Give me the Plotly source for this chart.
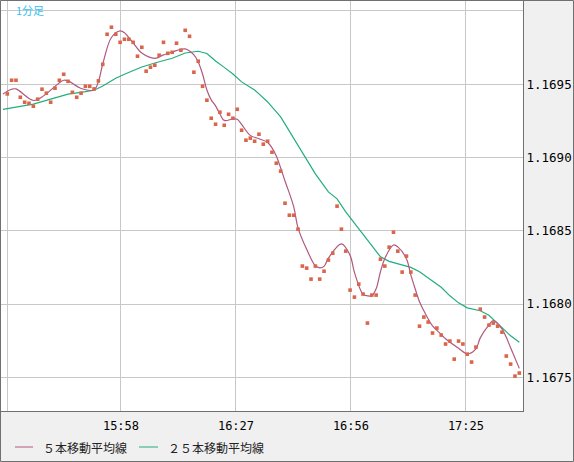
import plotly.graph_objects as go

# ---- data ----
bar_index = list(range(119))
close = [
    1.169434, 1.169527, 1.169527, 1.169411, 1.169377, 1.169370, 1.169350, 1.169398, 1.169466, 1.169439,
    1.169377, 1.169473, 1.169527, 1.169568, 1.169520, 1.169445, 1.169411, 1.169439, 1.169486, 1.169486,
    1.169468, 1.169523, 1.169636, 1.169841, 1.169889, 1.169841, 1.169786, 1.169807, 1.169807, 1.169786,
    1.169691, 1.169752, 1.169589, 1.169616, 1.169630, 1.169698, 1.169786, 1.169711, 1.169718, 1.169780,
    1.169732, 1.169868, 1.169827, 1.169582, 1.169657, 1.169486, 1.169391, 1.169268, 1.169227, 1.169309,
    1.169220, 1.169295, 1.169268, 1.169329, 1.169186, 1.169118, 1.169132, 1.169111, 1.169159, 1.169091,
    1.169111, 1.169036, 1.168961, 1.168907, 1.168688, 1.168606, 1.168606, 1.168511, 1.168259, 1.168245,
    1.168170, 1.168259, 1.168170, 1.168224, 1.168300, 1.168347, 1.168668, 1.168511, 1.168361, 1.168095,
    1.168047, 1.168136, 1.168068, 1.167870, 1.168061, 1.168061, 1.168306, 1.168259, 1.168388, 1.168490,
    1.168361, 1.168218, 1.168327, 1.168218, 1.168061, 1.167849, 1.167911, 1.167877, 1.167802, 1.167836,
    1.167788, 1.167727, 1.167747, 1.167624, 1.167747, 1.167727, 1.167658, 1.167604, 1.167706, 1.167965,
    1.167911, 1.167856, 1.167870, 1.167849, 1.167808, 1.167645, 1.167590, 1.167508, 1.167529,
]

ma5_index = [-1, 1, 2, 6, 8, 13, 14, 17, 20, 21, 22, 24, 26, 27, 29, 31, 34, 36, 38, 41,
             43, 44, 45, 46, 47, 48, 49, 50, 52, 53, 54, 56, 58, 60, 61, 62, 64, 66, 67, 69,
             71, 72, 73, 74, 77, 79, 80, 82, 83, 84, 85, 86, 87, 89, 90, 92, 93, 94, 95, 96,
             98, 100, 101, 104, 106, 108, 109, 111, 112, 114, 115, 116, 118]
ma5 = [1.169434, 1.169466, 1.169468, 1.169389, 1.169413, 1.169527, 1.169523, 1.169471, 1.169462, 1.169518,
       1.169638, 1.169819, 1.169864, 1.169852, 1.169782, 1.169713, 1.169677, 1.169700, 1.169720, 1.169741,
       1.169700, 1.169652, 1.169570, 1.169461, 1.169393, 1.169352, 1.169297, 1.169253, 1.169263, 1.169261,
       1.169226, 1.169151, 1.169128, 1.169103, 1.169066, 1.169011, 1.168840, 1.168665, 1.168520, 1.168373,
       1.168261, 1.168247, 1.168257, 1.168313, 1.168411, 1.168332, 1.168216, 1.168066, 1.168056, 1.168056,
       1.168104, 1.168220, 1.168311, 1.168403, 1.168390, 1.168308, 1.168199, 1.168104, 1.168015, 1.167954,
       1.167851, 1.167793, 1.167763, 1.167698, 1.167660, 1.167694, 1.167769, 1.167858, 1.167887, 1.167831,
       1.167773, 1.167701, 1.167561]

ma25_index = [-1, 2, 6, 10, 14, 17, 20, 22, 25, 27, 29, 31, 34, 38, 41, 44, 46, 48, 50, 52,
              54, 57, 58, 60, 63, 67, 69, 71, 74, 76, 78, 81, 83, 86, 88, 91, 93, 95, 97, 100,
              102, 104, 106, 109, 111, 113, 116, 118]
ma25 = [1.169328, 1.169343, 1.169364, 1.169398, 1.169432, 1.169445, 1.169459, 1.169488, 1.169541, 1.169568,
        1.169595, 1.169618, 1.169645, 1.169677, 1.169713, 1.169725, 1.169710, 1.169659, 1.169615, 1.169570,
        1.169516, 1.169461, 1.169434, 1.169379, 1.169277, 1.169086, 1.168990, 1.168888, 1.168765, 1.168718,
        1.168629, 1.168513, 1.168431, 1.168322, 1.168291, 1.168264, 1.168250, 1.168220, 1.168179, 1.168114,
        1.168056, 1.168008, 1.167974, 1.167954, 1.167923, 1.167865, 1.167783, 1.167739]

x_tick_pos = [0, 26.2, 52.7, 79.2, 105.7]
x_tick_labels = ['', '15:58', '16:27', '16:56', '17:25']
y_tick_vals = [1.1675, 1.1680, 1.1685, 1.1690, 1.1695, 1.1700]
y_tick_labels = ['1.1675', '1.1680', '1.1685', '1.1690', '1.1695', '']
legend_names = ['５本移動平均線', '２５本移動平均線']
title_label = '1分足'

C_MA5 = '#b0587f'
C_MA25 = '#22ae7c'
C_PT = '#d9654b'

fig = go.Figure()
fig.add_trace(go.Scatter(x=ma25_index, y=ma25, mode='lines',
                         line=dict(color=C_MA25, width=1.2), hoverinfo='skip'))
fig.add_trace(go.Scatter(x=ma5_index, y=ma5, mode='lines',
                         line=dict(color=C_MA5, width=1.2, shape='spline', smoothing=1.0),
                         hoverinfo='skip'))
fig.add_trace(go.Scatter(x=bar_index, y=close, mode='markers',
                         marker=dict(symbol='square', size=3.6, color=C_PT, line=dict(width=0))))

W, H = 574, 462
L, R, T, B = 1, 51, 1, 51
pw, ph = W - L - R, H - T - B


def px(x):
    return (x - L) / pw


def py(y):
    return (H - B - y) / ph


shapes = [
    dict(type='rect', xref='paper', yref='paper',
         x0=px(0.5), x1=px(W - 0.5), y0=py(H - 0.5), y1=py(0.5),
         line=dict(color='#707070', width=1), fillcolor='rgba(0,0,0,0)', layer='above'),
    dict(type='line', xref='paper', yref='paper', x0=px(15), x1=px(33), y0=py(447), y1=py(447),
         line=dict(color=C_MA5, width=1)),
    dict(type='line', xref='paper', yref='paper', x0=px(139), x1=px(158), y0=py(447), y1=py(447),
         line=dict(color=C_MA25, width=1)),
]
annotations = [
    dict(xref='paper', yref='paper', x=px(41), y=py(447), text=legend_names[0], showarrow=False,
         xanchor='left', yanchor='middle', font=dict(family='Noto Sans CJK JP', size=12, color='#222222')),
    dict(xref='paper', yref='paper', x=px(166), y=py(447), text=legend_names[1], showarrow=False,
         xanchor='left', yanchor='middle', font=dict(family='Noto Sans CJK JP', size=12, color='#222222')),
    dict(xref='paper', yref='paper', x=px(14), y=py(10), text=title_label, showarrow=False,
         xanchor='left', yanchor='middle', font=dict(family='Noto Sans CJK JP', size=11, color='#33bff2')),
]

fig.update_layout(
    width=W, height=H,
    margin=dict(l=L, r=R, t=T, b=B, pad=0),
    paper_bgcolor='#f0f0f0', plot_bgcolor='#ffffff',
    showlegend=False,
    shapes=shapes, annotations=annotations,
    xaxis=dict(range=[-1.45, 118.85], tickmode='array', tickvals=x_tick_pos, ticktext=x_tick_labels,
               showgrid=True, gridcolor='#c8c8c8', gridwidth=1, zeroline=False,
               showline=True, linecolor='#707070', linewidth=1, ticks='', ticklabelstandoff=4,
               tickfont=dict(family='DejaVu Sans Mono', size=12, color='#000000')),
    yaxis=dict(range=[1.16727, 1.170068], side='right', tickmode='array', tickvals=y_tick_vals,
               ticktext=y_tick_labels, showgrid=True, gridcolor='#c8c8c8', gridwidth=1,
               zeroline=False, showline=True, linecolor='#707070', linewidth=1, ticks='',
               tickfont=dict(family='DejaVu Sans Mono', size=12.5, color='#000000')),
)

fig.write_html('out.html', config={'displayModeBar': False},
               post_script="document.body.style.margin='0';document.body.style.overflow='hidden';")
